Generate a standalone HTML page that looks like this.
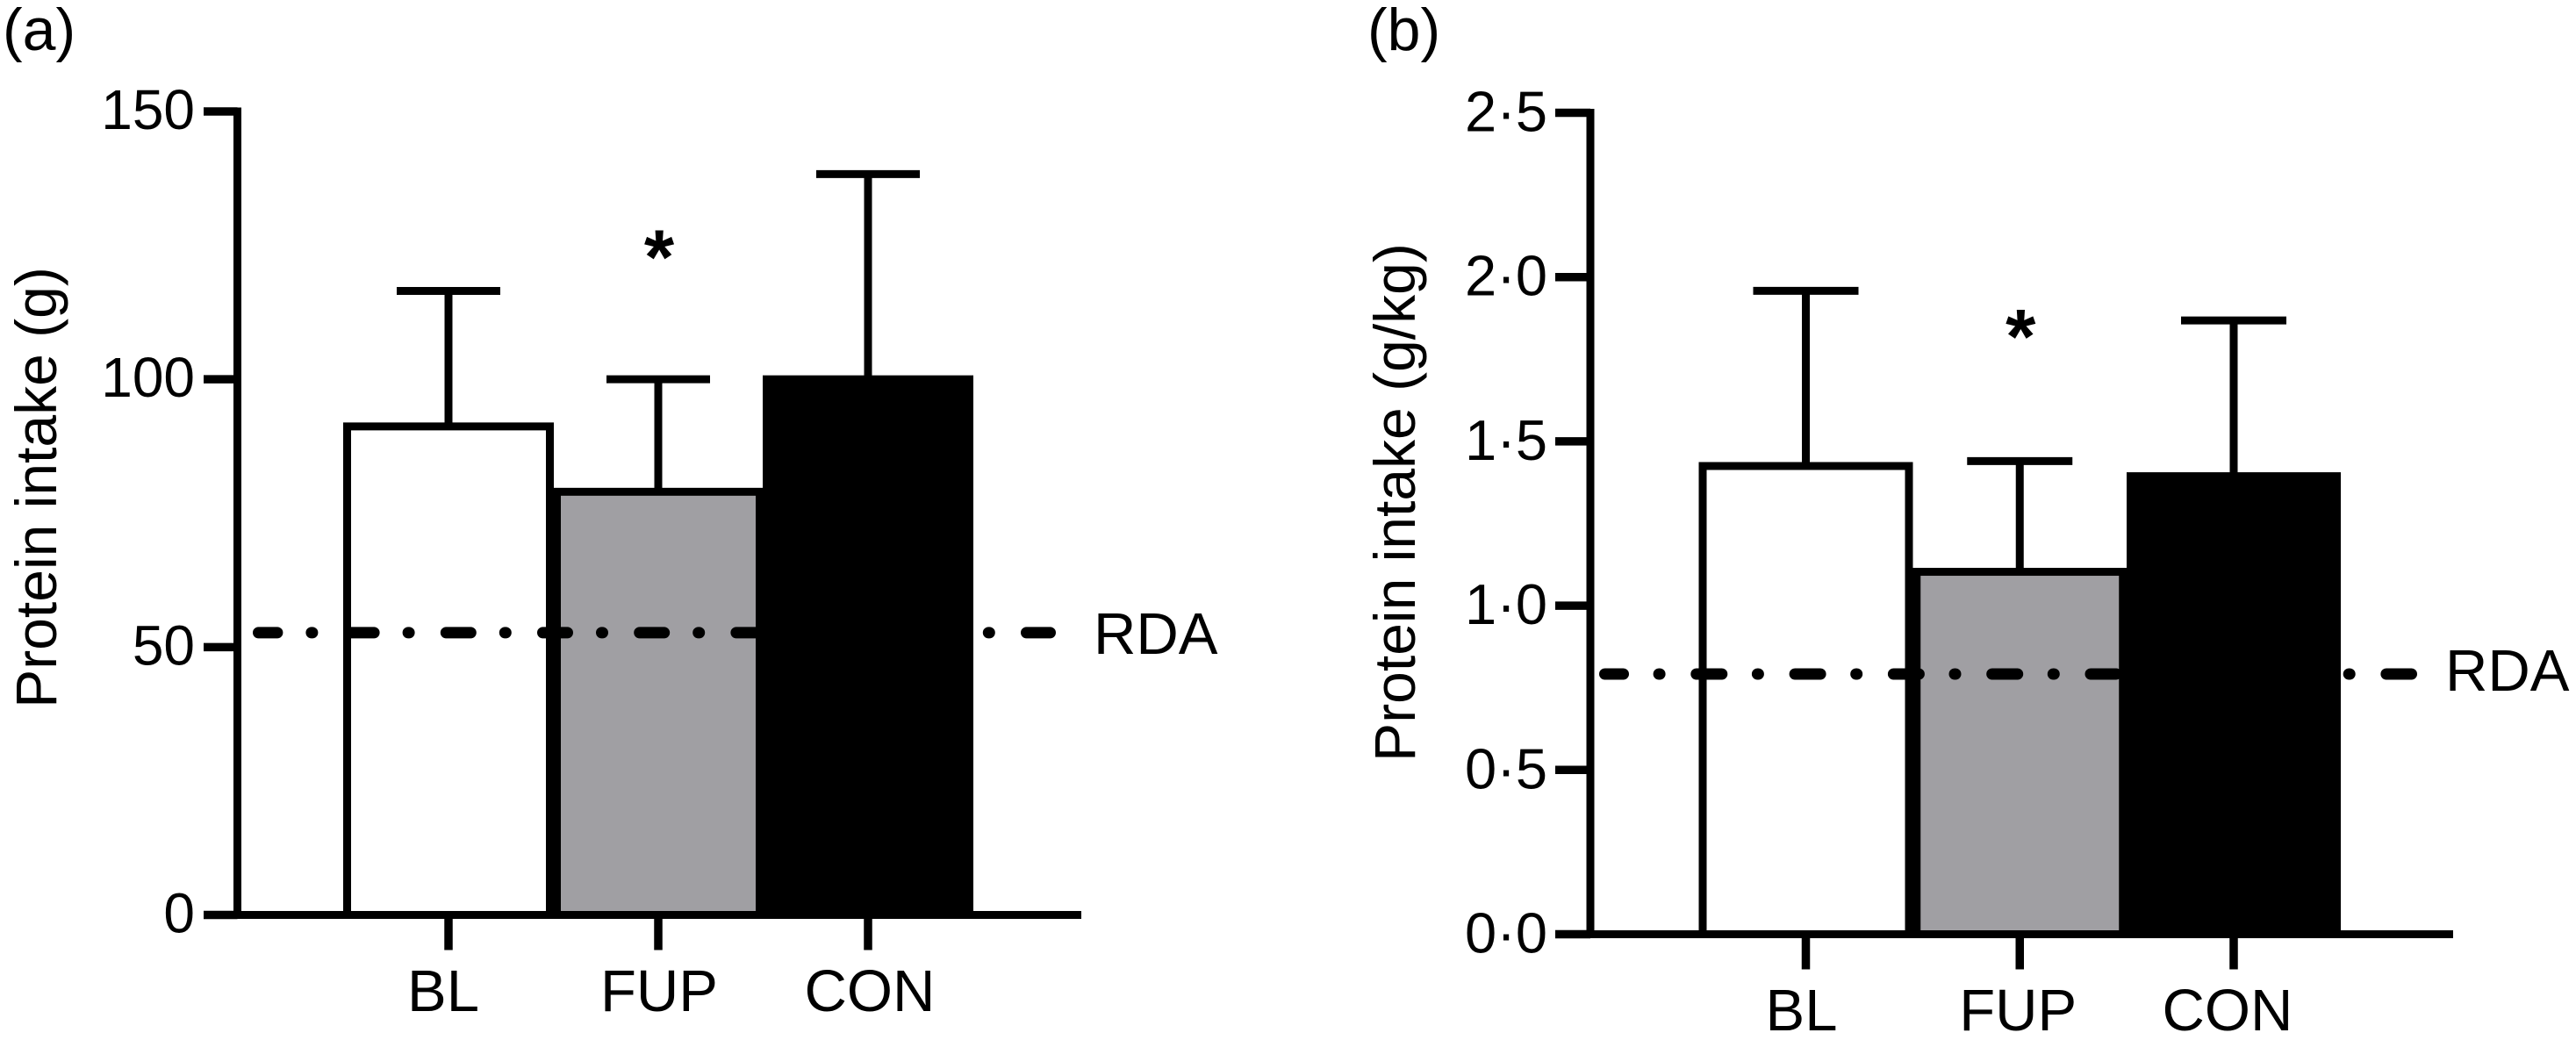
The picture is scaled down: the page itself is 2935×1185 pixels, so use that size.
<!DOCTYPE html>
<html lang="en">
<head>
<meta charset="utf-8">
<title>Protein intake charts</title>
<style>
  html, body { margin: 0; padding: 0; background: #fff; }
  svg { display: block; }
  text { font-family: "Liberation Sans", Arial, sans-serif; fill: #000; }
</style>
</head>
<body>
<svg id="figure" xmlns="http://www.w3.org/2000/svg" width="2935" height="1185" viewBox="0 0 2935 1185">
  <rect x="0" y="0" width="2935" height="1185" fill="#fff"/>
  <g id="panel-a"></g>
  <g id="panel-b"></g>
  <text x="3" y="57" font-size="68">(a)</text>
  <text x="1558" y="57" font-size="68">(b)</text>
  <text transform="translate(64,555.5) rotate(-90)" text-anchor="middle" font-size="66">Protein intake (g)</text>
  <text transform="translate(1612,572.5) rotate(-90)" text-anchor="middle" font-size="66">Protein intake (g/kg)</text>
</svg>
<script>
// Chart data
const categories = ['BL', 'FUP', 'CON'];
const aMeans = [91.2, 79, 100];
const aErrors = [25.3, 21, 38.3];
const aTickValues = [0, 50, 100, 150];
const aTickLabels = ['0', '50', '100', '150'];
const aRda = 52.7;
const aSignificant = ['FUP'];
const aStarValue = 125.9;

const bMeans = [1.425, 1.103, 1.394];
const bErrors = [0.533, 0.337, 0.474];
const bTickValues = [0, 0.5, 1, 1.5, 2, 2.5];
const bTickLabels = ['0·0', '0·5', '1·0', '1·5', '2·0', '2·5'];
const bRda = 0.792;
const bSignificant = ['FUP'];
const bStarValue = 1.87;

const SVG_NS = 'http://www.w3.org/2000/svg';
const barFills = ['#ffffff', '#a09fa3', '#000000'];

function make(parent, tag, attrs, content) {
  const el = document.createElementNS(SVG_NS, tag);
  for (const key in attrs) el.setAttribute(key, attrs[key]);
  if (content !== undefined) el.textContent = content;
  parent.appendChild(el);
  return el;
}

function drawPanel(cfg) {
  const root = document.getElementById(cfg.id);
  const y = v => cfg.y0 - v * cfg.pxPerUnit;
  const x = i => cfg.x0 + cfg.step * i;

  // first two bars sit under the reference line, the last bar covers it
  function drawBar(i) {
    const top = y(cfg.means[i]);
    const bar = make(root, 'rect', {
      x: x(i) - cfg.halfWidth, y: top,
      width: cfg.halfWidth * 2, height: cfg.y0 - top,
      fill: barFills[i], stroke: '#000', 'stroke-width': 9
    });
    
    

    const capY = y(cfg.means[i] + cfg.errors[i]);
    const stem = make(root, 'line', {
      x1: x(i), x2: x(i), y1: top, y2: capY, stroke: '#000', 'stroke-width': 9
    });
    
    

    const cap = make(root, 'line', {
      x1: x(i) - cfg.capHalf, x2: x(i) + cfg.capHalf, y1: capY, y2: capY, stroke: '#000', 'stroke-width': 9
    });
    
    
  }

  drawBar(0);
  drawBar(1);

  const rdaY = y(cfg.rda);
  const rdaLine = make(root, 'line', {
    x1: cfg.rdaStart, x2: cfg.rdaEnd, y1: rdaY, y2: rdaY,
    stroke: '#000', 'stroke-width': 13, 'stroke-linecap': 'round',
    'stroke-dasharray': cfg.rdaDash, 'stroke-dashoffset': cfg.rdaOffset
  });
  
  

  drawBar(2);

  const rdaLabel = make(root, 'text', { x: cfg.rdaLabelX, y: rdaY + cfg.rdaLabelDy, 'font-size': 67 }, 'RDA');
  
  

  // axes
  const yAxis = make(root, 'line', {
    x1: cfg.axisX, x2: cfg.axisX, y1: y(cfg.tickValues[cfg.tickValues.length - 1]) - 4.5, y2: cfg.y0 + 4.5,
    stroke: '#000', 'stroke-width': 9
  });
  
  

  const xAxis = make(root, 'line', {
    x1: cfg.axisX - 4, x2: cfg.axisEnd, y1: cfg.y0, y2: cfg.y0, stroke: '#000', 'stroke-width': 9
  });
  
  

  cfg.tickValues.forEach((v, i) => {
    const tick = make(root, 'line', {
      x1: cfg.tickLeft, x2: cfg.axisX, y1: y(v), y2: y(v), stroke: '#000', 'stroke-width': 9.5
    });
    
    

    const label = make(root, 'text', {
      x: cfg.labelRight, y: y(v) + cfg.labelDy, 'text-anchor': 'end', 'font-size': cfg.labelSize
    }, cfg.tickLabels[i]);
    
    
  });

  categories.forEach((c, i) => {
    const tick = make(root, 'line', {
      x1: x(i), x2: x(i), y1: cfg.y0, y2: cfg.y0 + 40, stroke: '#000', 'stroke-width': 9.5
    });
    
    

    const label = make(root, 'text', {
      x: x(i) + cfg.labelNudge[i], y: cfg.xLabelY, 'text-anchor': 'middle', 'font-size': 67
    }, c);
    
    

    if (cfg.significant.includes(c)) {
      const star = make(root, 'text', {
        x: x(i) + 1, y: y(cfg.starValue) + 49, 'text-anchor': 'middle', 'font-size': 88, 'font-weight': 'bold'
      }, '*');
      
      
    }
  });
}

drawPanel({
  id: 'panel-a', means: aMeans, errors: aErrors, tickValues: aTickValues, tickLabels: aTickLabels,
  rda: aRda, significant: aSignificant, starValue: aStarValue,
  y0: 1042.5, pxPerUnit: 915.5 / 150, x0: 511, step: 239, halfWidth: 115.5, capHalf: 59,
  axisX: 270.5, axisEnd: 1232, tickLeft: 232, labelRight: 222, labelDy: 20, labelSize: 64,
  xLabelY: 1152, labelNudge: [-6, 1, 2],
  rdaStart: 294.5, rdaEnd: 1196.5, rdaDash: '28 39 1 42.2', rdaOffset: 6.6, rdaLabelX: 1246, rdaLabelDy: 24
});

drawPanel({
  id: 'panel-b', means: bMeans, errors: bErrors, tickValues: bTickValues, tickLabels: bTickLabels,
  rda: bRda, significant: bSignificant, starValue: bStarValue,
  y0: 1064.5, pxPerUnit: 936 / 2.5, x0: 2057.5, step: 243.75, halfWidth: 117.5, capHalf: 60,
  axisX: 1812, axisEnd: 2795, tickLeft: 1772, labelRight: 1763, labelDy: 21, labelSize: 65,
  xLabelY: 1174, labelNudge: [-5, -2, -7],
  rdaStart: 1828.5, rdaEnd: 2747.5, rdaDash: '29 40.6 1 41.7', rdaOffset: 8, rdaLabelX: 2786, rdaLabelDy: 19
});
</script>
</body>
</html>
